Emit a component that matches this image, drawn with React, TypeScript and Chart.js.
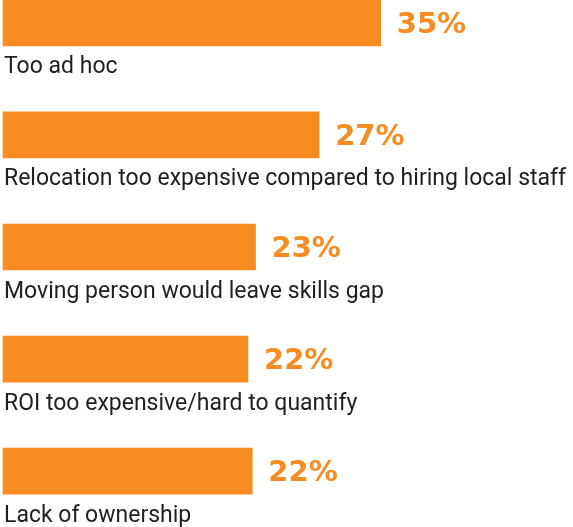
import React, { useEffect, useRef } from "react";
import { Chart, registerables } from "chart.js";

Chart.register(...registerables);

const categories = [
  "Too ad hoc",
  "Relocation too expensive compared to hiring local staff",
  "Moving person would leave skills gap",
  "ROI too expensive/hard to quantify",
  "Lack of ownership",
];
// bar lengths as drawn in the picture (percent)
const barValues = [35, 29.3, 23.4, 22.7, 23.1];
// value labels printed next to the bars
const valueLabels = ["35%", "27%", "23%", "22%", "22%"];

const ORANGE = "#F78D22";

const labelPlugin = {
  id: "rowLabels",
  afterDatasetsDraw(chart: any) {
    const ctx = chart.ctx;
    const meta = chart.getDatasetMeta(0);
    ctx.save();
    meta.data.forEach((bar: any, i: number) => {
      const props = bar.getProps(["x", "y", "base", "height"], true);
      const bottom = props.y + props.height / 2;
      ctx.fillStyle = "#1f1f1f";
      ctx.font = "23px Roboto";
      ctx.textAlign = "left";
      ctx.textBaseline = "alphabetic";
      ctx.fillText(categories[i], 4, bottom + 27.5);
      ctx.fillStyle = ORANGE;
      ctx.font = "bold 29px 'DejaVu Sans'";
      ctx.fillText(valueLabels[i], props.x + 16, props.y + 10);
    });
    ctx.restore();
  },
};

export default function App() {
  const ref = useRef<HTMLCanvasElement | null>(null);
  useEffect(() => {
    if (!ref.current) return;
    const chart = new Chart(ref.current, {
      type: "bar",
      data: {
        labels: categories,
        datasets: [
          {
            data: barValues,
            backgroundColor: ORANGE,
            borderWidth: 0,
            barThickness: 46,
            clip: false,
          },
        ],
      },
      options: {
        indexAxis: "y",
        responsive: false,
        animation: false,
        layout: { padding: { left: 3, right: 0, top: 22.8, bottom: 55.8 } },
        plugins: { legend: { display: false }, tooltip: { enabled: false } },
        scales: {
          x: { type: "linear", min: 0, max: 52.82, display: false },
          y: { type: "category", offset: false, display: false },
        },
      },
      plugins: [labelPlugin],
    });
    return () => chart.destroy();
  }, []);
  return (
    <div style={{ position: "fixed", left: 0, top: 0, width: 573, height: 527, background: "#fff" }}>
      <canvas ref={ref} width={573} height={527} style={{ width: 573, height: 527 }} />
    </div>
  );
}
